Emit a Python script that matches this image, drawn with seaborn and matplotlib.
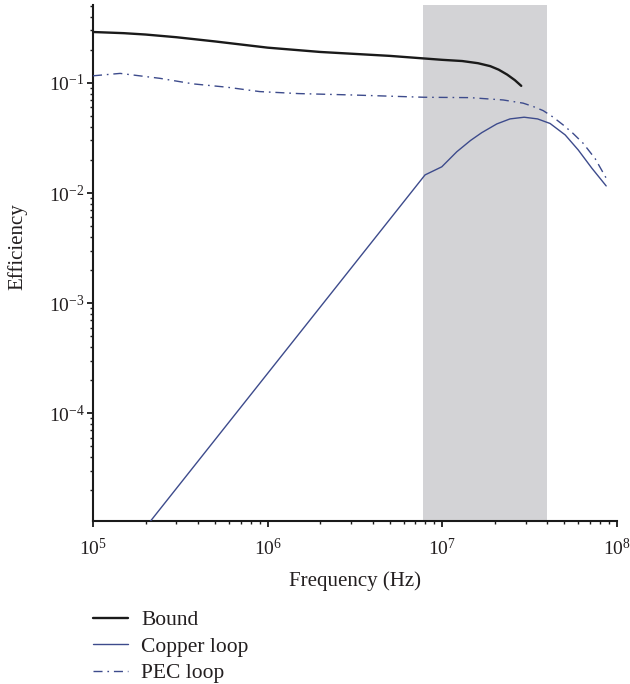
import matplotlib
matplotlib.use("Agg")
import matplotlib.pyplot as plt
import matplotlib.ticker as mticker
import pandas as pd
import seaborn as sns

# ---------------- data ----------------
freq_bound = [1e5, 1.5e5, 2e5, 3e5, 5e5, 1e6, 2e6, 5e6, 1e7, 1.3e7, 1.6e7, 1.88e7,
              2.1e7, 2.35e7, 2.6e7, 2.83e7]
eff_bound = [0.290, 0.283, 0.275, 0.260, 0.238, 0.209, 0.191, 0.176, 0.162, 0.158,
             0.151, 0.142, 0.132, 0.119, 0.106, 0.094]

freq_copper = [1e5, 7.96e6, 9.93e6, 1.21e7, 1.45e7, 1.68e7, 2.05e7, 2.44e7, 2.94e7,
               3.51e7, 4.14e7, 5.05e7, 6.0e7, 7.18e7, 8.67e7]
eff_copper = [2.3e-6, 0.0146, 0.0173, 0.0237, 0.0300, 0.0353, 0.0424, 0.0471, 0.0488,
              0.0471, 0.0428, 0.0337, 0.0246, 0.0168, 0.0116]

freq_pec = [1e5, 1.43e5, 2.42e5, 3.74e5, 5.85e5, 9e5, 1.5e6, 2.96e6, 7.8e6, 1.44e7,
            2.23e7, 2.9e7, 3.3e7, 3.78e7, 4.3e7, 4.92e7, 5.6e7, 6.4e7, 7.5e7, 8.8e7]
eff_pec = [0.116, 0.122, 0.110, 0.098, 0.0914, 0.0834, 0.0800, 0.0778, 0.0741, 0.0735,
           0.0700, 0.0655, 0.0612, 0.0560, 0.0490, 0.0415, 0.0348, 0.0283, 0.0205, 0.0131]

span_band = [7.8e6, 4.0e7]
series_labels = ["Bound", "Copper loop", "PEC loop"]

# ---------------- style ----------------
sns.set_theme(style="ticks")
plt.rcParams["font.family"] = ["Liberation Serif", "DejaVu Serif"]
plt.rcParams["mathtext.fontset"] = "stix"
text_color = "#231f20"
blue = "#3d4b8c"

fig = plt.figure(figsize=(6.3, 6.84), dpi=100)
ax = fig.add_axes([93 / 630, 1 - 521 / 684, 524 / 630, 516 / 684])

ax.axvspan(span_band[0], span_band[1], color="#d3d3d6", lw=0, zorder=0)

df_b = pd.DataFrame({"f": freq_bound, "e": eff_bound})
df_c = pd.DataFrame({"f": freq_copper, "e": eff_copper})
df_p = pd.DataFrame({"f": freq_pec, "e": eff_pec})

sns.lineplot(data=df_b, x="f", y="e", ax=ax, color="#1a1a1a", lw=1.7,
             label=series_labels[0], sort=False, zorder=3)
sns.lineplot(data=df_c, x="f", y="e", ax=ax, color=blue, lw=1.0,
             label=series_labels[1], sort=False, zorder=3)
sns.lineplot(data=df_p, x="f", y="e", ax=ax, color=blue, lw=1.0,
             linestyle=(0, (6.5, 3.5, 1.2, 3.5)),
             label=series_labels[2], sort=False, zorder=3)

ax.set_xscale("log")
ax.set_yscale("log")
ax.set_xlim(1e5, 1e8)
ax.set_ylim(1.05e-5, 0.51)

ax.xaxis.set_major_locator(mticker.LogLocator(base=10, numticks=10))
ax.xaxis.set_minor_locator(mticker.LogLocator(base=10, subs=range(2, 10), numticks=20))
ax.yaxis.set_major_locator(mticker.LogLocator(base=10, numticks=10))
ax.yaxis.set_minor_locator(mticker.LogLocator(base=10, subs=range(2, 10), numticks=20))
ax.xaxis.set_minor_formatter(mticker.NullFormatter())
ax.yaxis.set_minor_formatter(mticker.NullFormatter())

sns.despine(ax=ax)
for s in ("left", "bottom"):
    ax.spines[s].set_linewidth(1.5)
    ax.spines[s].set_color("#1a1a1a")

ax.tick_params(axis="both", which="major", direction="out", length=4.5, width=1.3,
               color="#1a1a1a", labelsize=14, labelcolor=text_color)
ax.tick_params(axis="both", which="minor", direction="out", length=2.5, width=1.0,
               color="#1a1a1a")
ax.tick_params(axis="x", which="major", pad=8)
ax.tick_params(axis="y", which="major", pad=1.5)

ax.set_xlabel("Frequency (Hz)", fontsize=15, color=text_color)
ax.set_ylabel("Efficiency", fontsize=15, color=text_color)
ax.xaxis.set_label_coords(0.5, -0.097)
ax.yaxis.set_label_coords(-0.126, 0.532)
ax.grid(False)

handles, labels = ax.get_legend_handles_labels()
ax.get_legend().remove()
fig.legend(handles, labels, loc="upper left", bbox_to_anchor=(93 / 630, 1 - 610 / 684),
           frameon=False, borderpad=0, borderaxespad=0, handlelength=1.63,
           handletextpad=0.62, labelspacing=0.3, fontsize=15.5, labelcolor=text_color)

fig.savefig("out.png", dpi=100)
